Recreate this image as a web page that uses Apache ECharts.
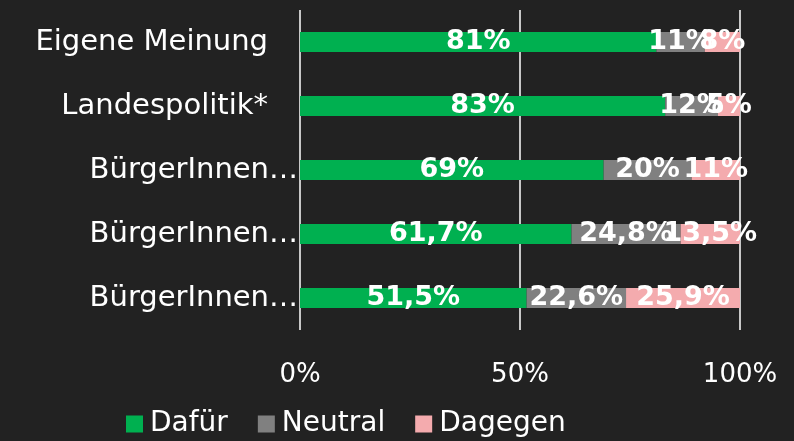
<!DOCTYPE html>
<html>
<head>
<meta charset="utf-8">
<script src="https://cdn.jsdelivr.net/npm/echarts@6/dist/echarts.min.js"></script>
<style>
  html, body { margin: 0; padding: 0; background: #222222; }
  #chart { width: 794px; height: 441px; }
</style>
</head>
<body>
<div id="chart"></div>
<script>
// Kategorien von oben nach unten
const categories = ['Eigene Meinung', 'Landespolitik*', 'BürgerInnen…', 'BürgerInnen…', 'BürgerInnen…'];
const dafuer = [81, 83, 69, 61.7, 51.5];
const neutral = [11, 12, 20, 24.8, 22.6];
const dagegen = [8, 5, 11, 13.5, 25.9];
const xTicks = [0, 50, 100];

const FONT = 'DejaVu Sans';
const chart = echarts.init(document.getElementById('chart'));

// Zahl mit Komma als Dezimaltrenner
const fmt = p => String(p.value).replace('.', ',') + '%';

const label = {
  show: true,
  position: 'inside',
  color: '#ffffff',
  fontFamily: FONT,
  fontWeight: 'bold',
  fontSize: 27
};

const mkSeries = (name, data, color) => ({
  name: name,
  type: 'bar',
  stack: 'total',
  data: data,
  barWidth: 20,
  itemStyle: { color: color },
  label: Object.assign({ formatter: fmt }, label)
});

chart.setOption({
  backgroundColor: '#222222',
  animation: false,
  grid: { left: 300, right: 54, top: 10, bottom: 111 },
  legend: {
    left: 121,
    top: 405,
    itemWidth: 17,
    itemHeight: 17,
    itemGap: 30,
    icon: 'rect',
    textStyle: { color: '#ffffff', fontFamily: FONT, fontSize: 28, padding: [0, 0, 0, 2] },
    data: ['Dafür', 'Neutral', 'Dagegen']
  },
  xAxis: {
    type: 'value',
    min: xTicks[0],
    max: xTicks[xTicks.length - 1],
    interval: xTicks[1] - xTicks[0],
    axisLine: { show: false },
    axisTick: { show: false },
    axisLabel: {
      color: '#ffffff',
      fontFamily: FONT,
      fontSize: 26,
      margin: 32,
      formatter: '{value}%'
    },
    splitLine: { lineStyle: { color: '#ffffff', width: 1.5 } }
  },
  yAxis: {
    type: 'category',
    inverse: true,
    data: categories,
    axisLine: { show: false },
    axisTick: { show: false },
    axisLabel: {
      color: '#ffffff',
      fontFamily: FONT,
      fontSize: 29,
      margin: 2,
      formatter: (v, i) => (i < 2 ? '{a|' + v + '}' : '{b|' + v + '}'),
      rich: {
        a: { color: '#ffffff', fontFamily: FONT, fontSize: 29, padding: [0, 30, 0, 0] },
        b: { color: '#ffffff', fontFamily: FONT, fontSize: 29 }
      }
    }
  },
  series: [
    mkSeries('Dafür', dafuer, '#00B050'),
    mkSeries('Neutral', neutral, '#808080'),
    mkSeries('Dagegen', dagegen, '#F4ABAE')
  ]
});
</script>
</body>
</html>
